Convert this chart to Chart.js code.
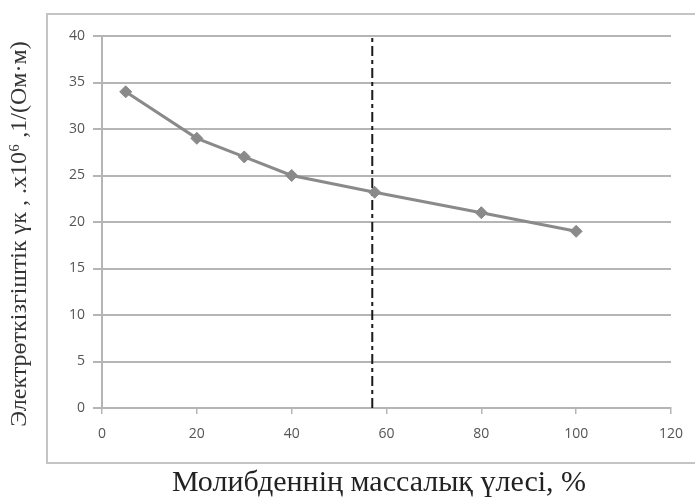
<!DOCTYPE html>
<html>
<head>
<meta charset="utf-8">
<script src="https://cdn.jsdelivr.net/npm/chart.js@4.4.1/dist/chart.umd.min.js"></script>
<style>
html,body{margin:0;padding:0;background:#fff;}
#wrap{width:695px;height:499px;position:relative;}
</style>
</head>
<body>
<div id="wrap"><canvas id="c" width="695" height="499"></canvas></div>
<script>
// Data
const massFraction = [5, 20, 30, 40, 57.5, 80, 100];
const conductivity = [34, 29, 27, 25, 23.2, 21, 19];
const dashedLineX = 57;
const xTickStep = 20, xMin = 0, xMax = 120;
const yTickStep = 5, yMin = 0, yMax = 40;
const xTitle = "Молибденнің массалық үлесі, %\u00A0\u00A0";
const yTitle = "Электрөткізгіштік γк , .x10⁶ ,1/(Ом·м)\u00A0\u00A0\u00A0\u00A0";

const framePlugin = {
  id: 'frame',
  beforeDraw(chart) {
    const ctx = chart.ctx;
    ctx.save();
    ctx.fillStyle = '#ffffff';
    ctx.fillRect(0, 0, chart.width, chart.height);
    ctx.strokeStyle = '#c4c4c4';
    ctx.lineWidth = 2;
    ctx.strokeRect(47, 14, 700, 449);
    ctx.restore();
  }
};

new Chart(document.getElementById('c'), {
  type: 'line',
  data: {
    datasets: [
      {
        data: massFraction.map((x, i) => ({x: x, y: conductivity[i]})),
        borderColor: '#8a8a8a',
        backgroundColor: '#8a8a8a',
        borderWidth: 3,
        pointStyle: 'rectRot',
        pointRadius: 6,
        pointBorderWidth: 1,
        tension: 0
      },
      {
        data: [{x: dashedLineX, y: yMin}, {x: dashedLineX, y: yMax}],
        borderColor: '#1a1a1a',
        borderWidth: 2,
        borderDash: [10, 4, 4, 4],
        pointRadius: 0
      }
    ]
  },
  plugins: [framePlugin],
  options: {
    responsive: false,
    animation: false,
    layout: {padding: {top: 36, right: 23, left: 0, bottom: 0}},
    plugins: {legend: {display: false}, tooltip: {enabled: false}},
    scales: {
      x: {
        type: 'linear',
        min: xMin, max: xMax,
        ticks: {stepSize: xTickStep, color: '#555555', font: {family: 'Open Sans', size: 14}, padding: 12},
        grid: {display: true, drawOnChartArea: false, drawTicks: true, tickLength: 6, color: '#b5b5b5', lineWidth: 1.5},
        border: {display: true, color: '#b5b5b5', width: 2},
        title: {display: true, text: xTitle, color: '#222', font: {family: 'Liberation Serif', size: 30, lineHeight: 1}, padding: {top: 0, bottom: 1}},
        afterFit(s) { s.height = 91; }
      },
      y: {
        type: 'linear',
        min: yMin, max: yMax,
        ticks: {stepSize: yTickStep, color: '#555555', font: {family: 'Open Sans', size: 14}, padding: 8},
        grid: {color: '#b5b5b5', lineWidth: 2, tickLength: 9},
        border: {display: true, color: '#b5b5b5', width: 2},
        title: {display: true, text: yTitle, color: '#333', font: {family: 'Liberation Serif', size: 24, lineHeight: 1}, padding: {top: 8, bottom: 0}},
        afterFit(s) { s.width = 102; }
      }
    }
  }
});
</script>
</body>
</html>
